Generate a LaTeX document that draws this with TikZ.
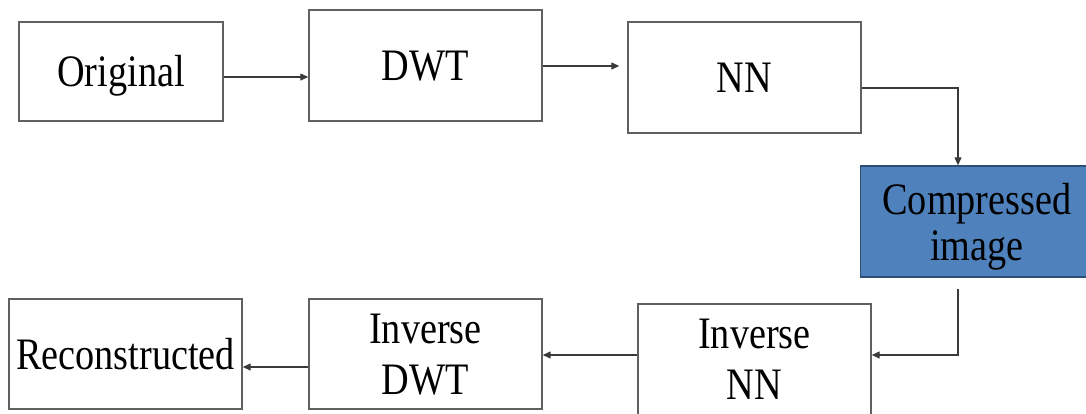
\documentclass[tikz,border=0pt]{standalone}
\usepackage{fontspec}
\setmainfont[FakeStretch=0.85]{Liberation Serif}
\usetikzlibrary{arrows.meta}
\definecolor{boxline}{HTML}{606060}
\definecolor{wire}{HTML}{3A3A3A}
\definecolor{compfill}{HTML}{4F81BD}
\definecolor{compline}{HTML}{2E4E74}
\begin{document}
\begin{tikzpicture}[x=1pt,y=-1pt,
  stage/.style={draw=boxline,line width=1.4pt,fill=white,minimum width=233pt,
    minimum height=111pt,inner sep=0pt,align=center,
    font=\fontsize{45}{51}\selectfont,text height=30pt,text depth=0pt},
  twoline/.style={text height=,text depth=0pt},
  arr/.style={draw=wire,line width=1.2pt,-{Triangle[length=8pt,width=7pt]}}]
  \useasboundingbox (0,0) rectangle (1086,413);
  \clip (0,0) rectangle (1086,413);

  % forward path
  \node[stage,minimum width=204pt,minimum height=99pt] (orig) at (121,71.5) {Original};
  \node[stage] (dwt) at (425.5,65.5) {DWT};
  \node[stage] (nn) at (744.5,77.5) {NN};
  \node[stage,twoline,fill=compfill,draw=compline,
    font=\fontsize{45}{46}\selectfont] (comp) at (977,221.5) {Compressed\\image};

  % inverse path
  \node[stage,twoline] (inn) at (754.5,359.5) {Inverse\\NN};
  \node[stage,twoline,minimum height=110pt] (idwt) at (425.5,354) {Inverse\\DWT};
  \node[stage,minimum height=110pt] (rec) at (125.5,354) {Reconstructed};

  % connectors
  \draw[arr] ([yshift=-5.5pt]orig.east) -- ([yshift=-11.5pt]dwt.west);
  \draw[arr,shorten >=8pt] ([yshift=-0.5pt]dwt.east) -- ([yshift=11.5pt]nn.west);
  \draw[arr] ([yshift=-10.5pt]nn.east) -| ([xshift=-19pt]comp.north);
  \draw[arr,shorten <=11pt] ([xshift=-19pt]comp.south) |- ([yshift=4.5pt]inn.east);
  \draw[arr] ([yshift=4.5pt]inn.west) -- ([yshift=-1pt]idwt.east);
  \draw[arr] ([yshift=-13pt]idwt.west) -- ([yshift=-13pt]rec.east);
\end{tikzpicture}
\end{document}
